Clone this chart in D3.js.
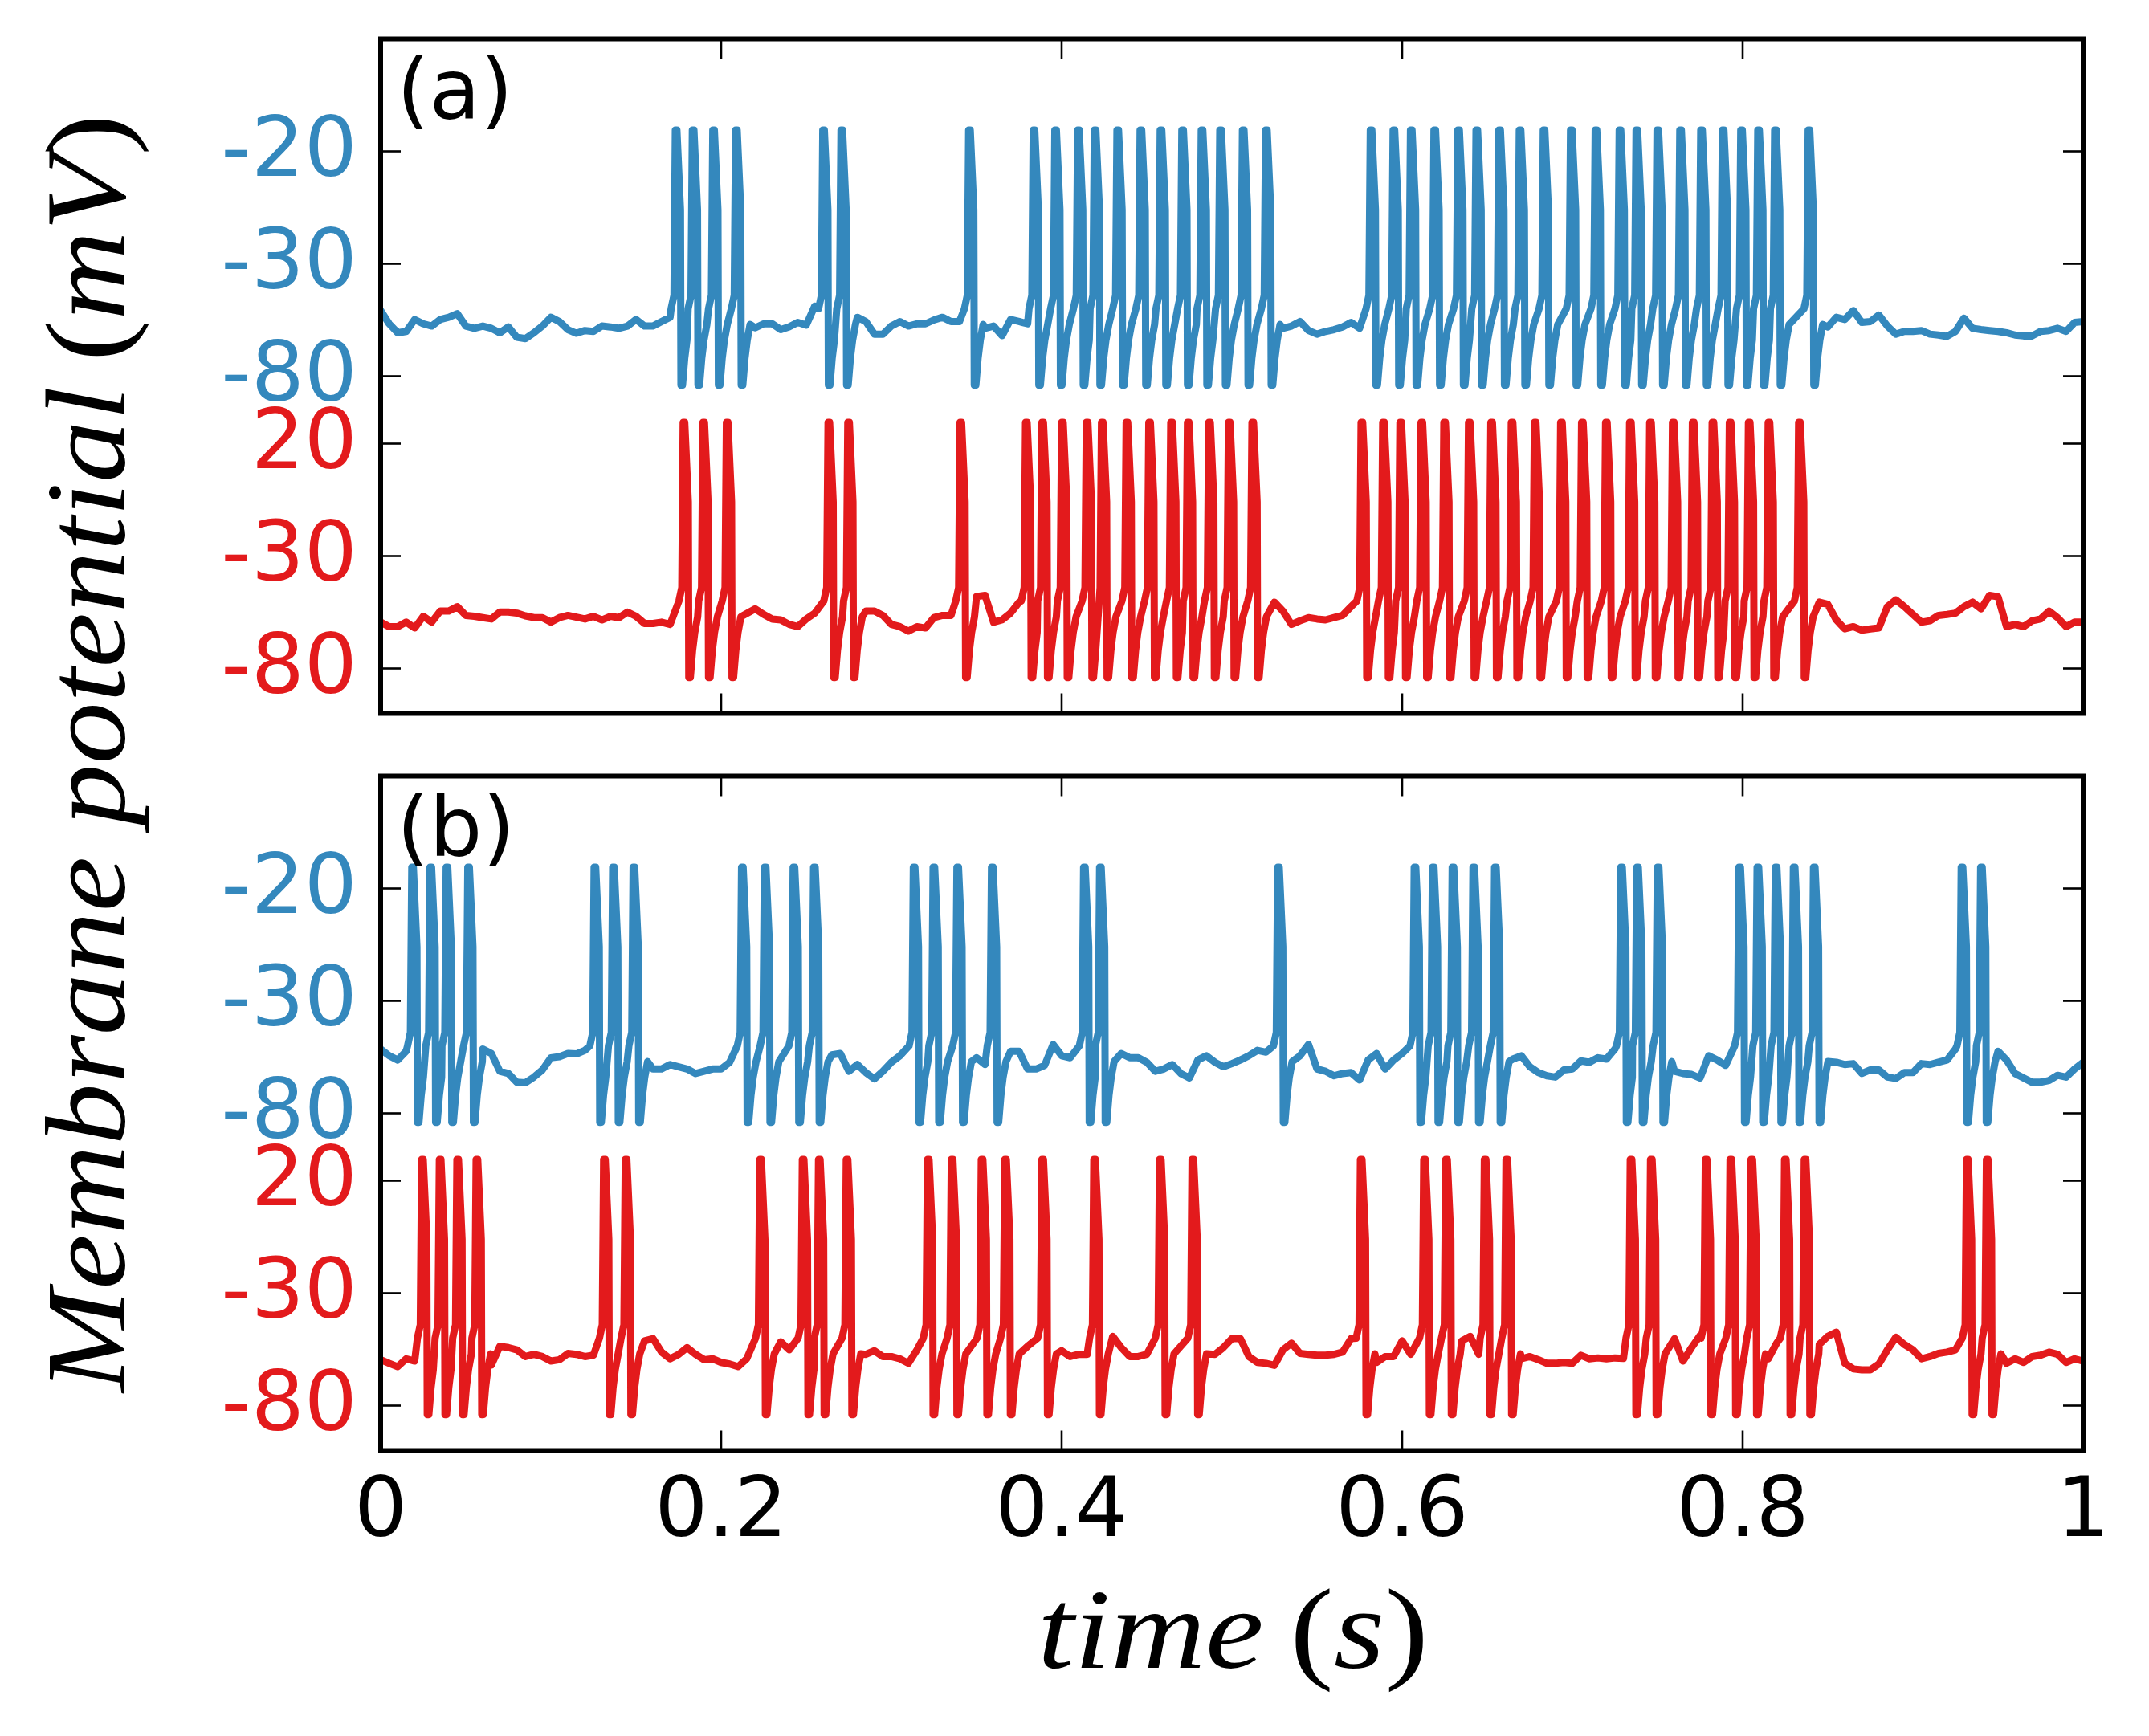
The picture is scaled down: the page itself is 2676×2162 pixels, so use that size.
<!DOCTYPE html>
<html><head><meta charset="utf-8">
<script src="https://cdn.jsdelivr.net/npm/d3@7"></script>
<style>html,body{margin:0;padding:0;background:#fff}</style>
</head><body>
<svg id="chart" width="2676" height="2162" xmlns="http://www.w3.org/2000/svg"></svg>
<script>
// ---------------- DATA ----------------
const timeTicks = [0, 0.2, 0.4, 0.6, 0.8, 1];
const timeTickLabels = ["0", "0.2", "0.4", "0.6", "0.8", "1"];
const yTickValues = [-80, -30, 20, 50, 100, 150];
const yTickLabels = ["-80", "-30", "20", "-80", "-30", "-20"];
const yTickSeries = ["red", "red", "red", "blue", "blue", "blue"];
const panelLabels = ["(a)", "(b)"];
const blueOffset = 130;   // blue trace is shifted up by 130 mV
const redOffset = 0;
const baselineStep = 0.01; // baseline samples every 10 ms (t = 0..1 s); "mid" samples at t = 0.005 + 0.01*i

// spike times (s)
const spikesA_blue = [0.1731,0.1831,0.1951,0.2085,0.2597,0.2704,0.3454,
  0.3833,0.3960,0.4094,0.4192,0.4325,0.4461,0.4579,0.4706,0.4820,0.4929,0.5062,0.5198,
  0.5813,0.5947,0.6049,0.6187,0.6327,0.6434,0.6568,0.6688,0.6829,0.6989,0.7134,0.7275,
  0.7374,0.7497,0.7631,0.7754,0.7881,0.7989,0.8089,0.8188,0.8385];
const spikesA_red = [0.1777,0.1893,0.2031,0.2628,0.2744,0.3403,
  0.3788,0.3884,0.4000,0.4145,0.4234,0.4379,0.4512,0.4641,0.4739,0.4864,0.4980,0.5118,
  0.5759,0.5886,0.5987,0.6111,0.6245,0.6390,0.6521,0.6641,0.6777,0.6931,0.7054,0.7195,
  0.7336,0.7454,0.7588,0.7705,0.7821,0.7922,0.8034,0.8150,0.8329];
const spikesB_blue = [0.0183,0.0290,0.0385,0.0512,0.1254,0.1363,0.1483,
  0.2120,0.2254,0.2423,0.2543,0.3129,0.3245,0.3385,0.3588,0.4129,0.4223,0.5269,
  0.6071,0.6178,0.6294,0.6416,0.6543,0.7284,0.7378,0.7499,
  0.7978,0.8085,0.8192,0.8298,0.8416,0.9284,0.9398];
const spikesB_red = [0.0241,0.0345,0.0448,0.0561,0.1310,0.1437,
  0.2227,0.2477,0.2572,0.2735,0.3212,0.3352,0.3528,0.3666,0.3884,0.4189,0.4575,0.4766,
  0.5755,0.6127,0.6256,0.6483,0.6610,0.7340,0.7459,0.7781,0.7926,0.8049,0.8246,0.8362,
  0.9315,0.9432];

// baseline membrane potential (mV), one value per 10 ms (null = inside a burst)
const baseA_blue = [-50.8,-60.7,-54.8,-57.7,-53.8,-57.7,-57.7,-60.7,-62.7,-60.7,
  -53.8,-59.3,-59.7,-57.7,-58.7,-54.8,-57.7,-53.8,null,null,
  null,null,-58.5,-56.7,-58,-57.3,null,null,-53.8,-61.3,
  -57.7,-57.7,-56.7,-53.8,-55.7,null,-57.7,-54.8,-56.7,null,
  null,null,null,null,null,null,null,null,null,null,
  null,null,null,-58.7,-55.7,-61.3,-59.3,-56.1,-54.8,null,
  null,null,null,null,null,null,null,null,null,null,
  null,null,null,null,null,null,null,null,null,null,
  null,null,null,null,null,-58.1,-54.8,-56.1,-52.8,-61.3,
  -60.1,-61.3,-62.3,-54.2,-59.3,-60.1,-61.7,-62.1,-59.7,-60.1,
  -55.7];
const midA_blue = [-56.7,-60.1,-56.7,-54.8,-52.2,-58.7,-58.7,-58.1,-63.3,-57.7,
  -55.7,-60.9,-60.1,-58.1,-57.7,-57.7,-55.7,null,null,null,
  null,null,-56.7,-59.3,-56.1,-48.8,null,null,-55.7,-61.3,
  -55.7,-56.7,-55,-55.7,null,-58.7,-62,-55.7,null,null,
  null,null,null,null,null,null,null,null,null,null,
  null,null,null,-57.7,-59.7,-60.1,-58.1,-58.7,null,null,
  null,null,null,null,null,null,null,null,null,null,
  null,null,null,null,null,null,null,null,null,null,
  null,null,null,null,null,-53.8,-50.8,-55.7,-57.7,-60.1,
  -59.7,-61.7,-60.1,-58.7,-59.7,-60.7,-62.1,-60.1,-58.7,-56.1];
const baseA_red = [-59.4,-61.4,-62,-59.4,-54.5,-56.4,-57.4,-54.9,-55.4,-57.4,
  -59.4,-56.4,-58,-58.4,-57.4,-56.8,-60,-60.4,null,null,
  null,null,-53.5,-58,-60.4,-58,null,null,null,-54.5,
  -60.4,-63.4,-62,-56.4,null,-48,-59.4,-55.4,null,null,
  null,null,null,null,null,null,null,null,null,null,
  null,null,null,-54.5,-58.8,-58,-57.4,-52.5,null,null,
  null,null,null,null,null,null,null,null,null,null,
  null,null,null,null,null,null,null,null,null,null,
  null,null,null,null,null,-51.5,-62.4,-63,-62,-49.5,
  -56,-58.8,-56,-52.5,-53.5,-48.1,-60.4,-58.8,-54.5,-61.4,
  -59.4];
const midA_red = [-61.4,-59.4,-56.8,-54.5,-52.5,-56.8,-58,-54.9,-56.6,-57.4,
  -57.4,-57.2,-56.8,-56.8,-54.9,-60,-59.4,null,null,null,
  null,null,-56,-58.4,-61.4,-55.4,null,null,-54.5,-56.4,
  -61.4,-61.4,-57.4,-56.4,null,-47.5,-58.4,-50.5,null,null,
  null,null,null,null,null,null,null,null,null,null,
  null,null,-50.5,-60.4,-57.4,-58.4,-56.4,null,null,null,
  null,null,null,null,null,null,null,null,null,null,
  null,null,null,null,null,null,null,null,null,null,
  null,null,null,null,-50.5,-58.4,-61.4,-62.4,-52.5,-52.5,
  -59.4,-56.4,-55.4,-50.5,-47.5,-61.4,-61.4,-58,-57.4,-59.4];
const baseB_blue = [-51.4,-56.3,null,null,null,null,-51.4,-61.3,-66.2,-63.9,
  -55.3,-53.4,-52,null,null,null,-60.3,-58.3,-60.3,-61.3,
  -60.3,null,null,null,null,null,null,-53.4,-58.3,-64.7,
  -57.3,null,null,null,null,-55.3,null,-52.4,-60.3,-58.7,
  -54.4,null,null,-56.3,-55.3,-57.3,-60.3,-62.3,-56.3,-57.3,
  -57.9,-54.4,-52.8,null,-54.4,-60.3,-63.3,-61.9,-56.3,-60.3,
  -53.4,null,null,null,null,null,null,-54.4,-61.9,-63.9,
  -60.3,-57.3,-55.9,null,null,null,-61.3,-62.7,-54.4,-58.7,
  null,null,null,null,null,-61.3,-58.3,-62.3,-60.7,-64.5,
  -61.9,-58.3,-56.3,null,null,-52.4,-62.3,-66.2,-65.4,-63.9,
  -57.3];
const midB_blue = [-54.4,-52.4,null,null,null,null,-53.4,-62.3,-66.4,-60.7,
  -54.8,-53.6,null,null,null,null,-60.3,-59.3,-62.3,-60.3,
  -57.3,null,null,null,null,null,-54,-61.3,-61.9,-61.3,
  -54.4,null,null,null,null,-58.3,null,-52.4,-60.3,-49.4,
  -55.3,null,null,-53.4,-55.3,-61.3,-58.3,-64.3,-54.4,-59.3,
  -56.3,-52,null,-59.3,-49.4,-61.3,-62.3,-65.2,-53.4,-56.3,
  null,null,null,null,null,null,-55.9,-59.3,-63.3,-60.7,
  -56.7,-55.3,-51.4,null,null,null,-62.3,-64.3,-56.3,null,
  null,null,null,null,null,-57.3,-57.9,-60.7,-63.9,-61.9,
  -57.9,-57.3,-51.4,null,null,-56.3,-64.3,-66.2,-63.1,-60.3];
const baseB_red = [-59.6,-62.7,-60.2,null,null,null,null,-53.6,-55.2,-57.2,
  -60.2,-56.8,-58.2,null,null,null,-50.2,-59.2,-54.2,-59.6,
  -60.8,-62.7,null,null,-55.2,null,null,null,null,-55.6,
  -58.2,-61.2,null,null,null,null,null,null,-53.6,null,
  -55.6,-57.2,null,-49.2,-58.2,-57.2,null,null,null,-57.2,
  -50.2,-58.2,-61.2,-55.2,-56.8,-57.6,-57.2,-50.2,null,-58.2,
  -51.2,null,null,null,-49.2,null,null,-59.2,-59.6,-61.2,
  -61.2,-59.2,-59.2,-59,null,null,-50.2,-54.2,null,null,
  null,null,-52.2,null,null,-49.2,-61.2,-64.1,-61.5,-49.6,
  -55.2,-58.2,-56.2,-53,null,-61.2,-59.2,-58.2,-56.2,-60.8,
  -60.2];
const midB_red = [-61.2,-59.2,null,null,null,null,-62,-54.2,-58.2,-58.2,
  -59.6,-57.2,-57.6,null,null,-51.2,-56.2,-57.2,-57.2,-59.2,
  -61.5,-59.2,null,-51.6,null,null,null,null,-57.2,-58.2,
  -59.2,-55.2,null,null,null,null,null,-54.2,null,null,
  -58.2,-57.2,null,-54.2,-58.2,null,null,null,null,-54.2,
  -50.2,-60.8,-62.1,-52.2,-57.2,-57.6,-56.2,null,-60.8,-58.2,
  -57.2,null,null,-51.2,-57.2,null,null,-58.2,-61.2,-60.8,
  -57.6,-58.8,-58.8,null,null,null,-60.2,-48.8,null,null,
  null,-59.2,null,null,-52.8,-47.3,-63.7,-64.1,-55.2,-52.8,
  -59.2,-56.8,-55.2,null,null,-61.2,-60.8,-57.6,-57.2,-59.2];

// action-potential waveform: offset from spike time (s) and potential (mV)
const spikeShapeDt = [-0.0025, -0.0008, 0, 0.0009, 0.0030, 0.0033, 0.0042, 0.0055, 0.0068, 0.0085];
const spikeShapeV  = [-50, -44, 29.5, 29.5, -6, -84, -84, -72, -64, -57];

const colors = { blue: "#3488bd", red: "#e31a1c" };

// ---------------- LAYOUT ----------------
const W = 2676, H = 2162;
const axLeft = 474, axRight = 2594;
const panels = [
  { top: 48.5, bottom: 888.5, label: panelLabels[0], traces: [
      { spikes: spikesA_blue, base: baseA_blue, mid: midA_blue, offset: blueOffset, color: colors.blue },
      { spikes: spikesA_red,  base: baseA_red,  mid: midA_red,  offset: redOffset,  color: colors.red } ], xLabels: false },
  { top: 966.5, bottom: 1806.5, label: panelLabels[1], traces: [
      { spikes: spikesB_blue, base: baseB_blue, mid: midB_blue, offset: blueOffset, color: colors.blue },
      { spikes: spikesB_red,  base: baseB_red,  mid: midB_red,  offset: redOffset,  color: colors.red } ], xLabels: true }
];

const svg = d3.select("#chart");
svg.append("rect").attr("width", W).attr("height", H).attr("fill", "#fff");
const x = d3.scaleLinear().domain([0, 1]).range([axLeft, axRight]);

function buildTrace(spikes, base, mid) {
  const pts = [];
  const addSample = (t, v) => {
    if (v == null) return;
    if (spikes.some(s => t > s - 0.003 && t < s + 0.0087)) return;
    pts.push([t, v]);
  };
  base.forEach((v, i) => addSample(i * baselineStep, v));
  mid.forEach((v, i) => addSample(i * baselineStep + baselineStep / 2, v));
  spikes.forEach((s, k) => {
    const prev = k > 0 ? spikes[k - 1] : -1;
    const next = k < spikes.length - 1 ? spikes[k + 1] : 2;
    spikeShapeDt.forEach((dt, j) => {
      const t = s + dt;
      if (dt < 0 && t <= prev + 0.0068) return;
      if (dt > 0.0042 && t >= next - 0.0025) return;
      pts.push([t, spikeShapeV[j]]);
    });
  });
  pts.sort((a, b) => a[0] - b[0]);
  return pts;
}

const tickFont = "'DejaVu Sans', sans-serif";
const tickSize = 104;

panels.forEach((p, pi) => {
  const y = d3.scaleLinear().domain([-100, 200]).range([p.bottom, p.top]);
  const clipId = "clip" + pi;
  svg.append("clipPath").attr("id", clipId).append("rect")
    .attr("x", axLeft).attr("y", p.top).attr("width", axRight - axLeft).attr("height", p.bottom - p.top);
  const g = svg.append("g");
  const lines = g.append("g").attr("clip-path", `url(#${clipId})`);
  p.traces.forEach(tr => {
    const pts = buildTrace(tr.spikes, tr.base, tr.mid);
    const line = d3.line().x(d => x(d[0])).y(d => y(d[1] + tr.offset));
    lines.append("path").attr("d", line(pts)).attr("fill", "none")
      .attr("stroke", tr.color).attr("stroke-width", 9)
      .attr("stroke-linejoin", "round").attr("stroke-linecap", "round");
  });

  // ticks (inside, all four sides)
  const tk = g.append("g").attr("stroke", "#000").attr("stroke-width", 2.6);
  timeTicks.forEach(t => {
    tk.append("line").attr("x1", x(t)).attr("x2", x(t)).attr("y1", p.bottom).attr("y2", p.bottom - 25);
    tk.append("line").attr("x1", x(t)).attr("x2", x(t)).attr("y1", p.top).attr("y2", p.top + 25);
  });
  yTickValues.forEach(v => {
    tk.append("line").attr("x1", axLeft).attr("x2", axLeft + 25).attr("y1", y(v)).attr("y2", y(v));
    tk.append("line").attr("x1", axRight).attr("x2", axRight - 25).attr("y1", y(v)).attr("y2", y(v));
  });

  // spines
  g.append("rect").attr("x", axLeft).attr("y", p.top).attr("width", axRight - axLeft)
    .attr("height", p.bottom - p.top).attr("fill", "none").attr("stroke", "#000").attr("stroke-width", 6);

  // y tick labels
  yTickValues.forEach((v, i) => {
    g.append("text").attr("x", 445).attr("y", y(v) + 30)
      .attr("text-anchor", "end").attr("font-family", tickFont).attr("font-size", tickSize)
      .attr("fill", colors[yTickSeries[i]]).text(yTickLabels[i]);
  });

  // x tick labels
  if (p.xLabels) {
    timeTicks.forEach((t, i) => {
      g.append("text").attr("x", x(t)).attr("y", p.bottom + 106.5)
        .attr("text-anchor", "middle").attr("font-family", tickFont).attr("font-size", tickSize)
        .attr("fill", "#000").text(timeTickLabels[i]);
    });
  }

  // panel label
  g.append("text").attr("x", axLeft + 20).attr("y", p.top + 99.5)
    .attr("font-family", tickFont).attr("font-size", tickSize).attr("fill", "#000").text(p.label);
});

// ---------------- AXIS LABELS (math-style italic) ----------------
const mathFont = "'Liberation Serif', 'DejaVu Serif', serif";
function mathLabel(parent, parts, size) {
  const t = parent.append("text").attr("font-family", mathFont).attr("font-size", size).attr("fill", "#000");
  parts.forEach(pt => {
    t.append("tspan").attr("font-style", pt.it ? "italic" : "normal").text(pt.s);
  });
  return t;
}
// x label
{
  const g = svg.append("g");
  const t = mathLabel(g, [{s:"time", it:true},{s:"\u2009(", it:false},{s:"s", it:true},{s:")", it:false}], 142);
  t.attr("text-anchor", "start");
  const len = t.node().getComputedTextLength();
  const sx = 487 / len;
  g.attr("transform", `translate(${1292},${2077}) scale(${sx},1)`);
}
// y label
{
  const g = svg.append("g");
  const t = mathLabel(g, [{s:"Membrane potential", it:true},{s:"\u2009(", it:false},{s:"mV", it:true},{s:")", it:false}], 142);
  t.attr("text-anchor", "start");
  const len = t.node().getComputedTextLength();
  const sx = 1592 / len;
  g.attr("transform", `translate(${155},${1734}) rotate(-90) scale(${sx},1)`);
}
</script>
</body></html>
